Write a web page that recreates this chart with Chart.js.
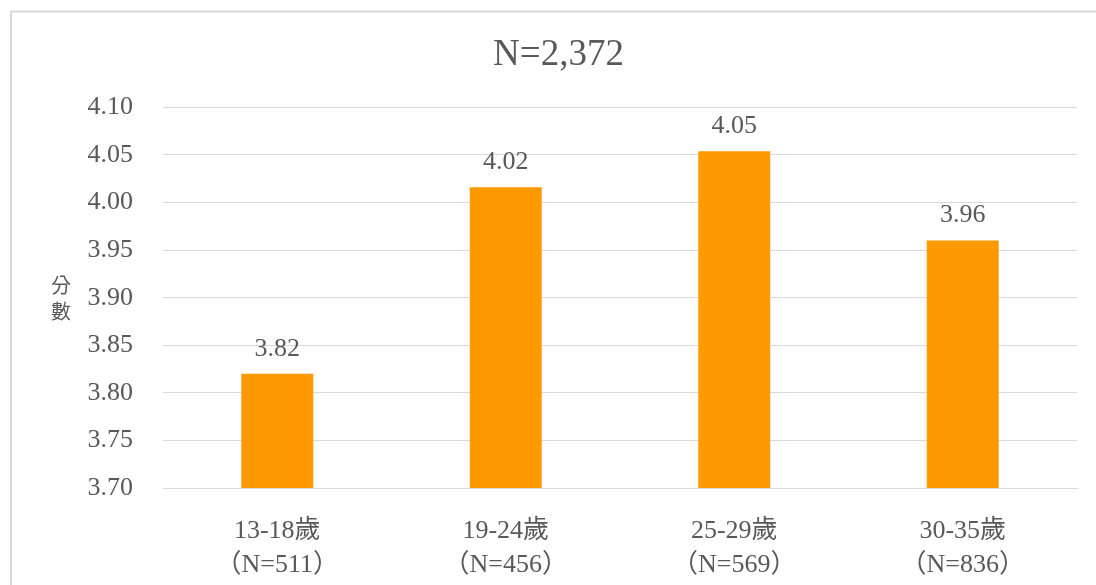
<!DOCTYPE html>
<html>
<head>
<meta charset="utf-8">
<script src="https://cdn.jsdelivr.net/npm/chart.js@4"></script>
<style>
  html, body { margin: 0; padding: 0; background: #fff; }
  #wrap { width: 1096px; height: 585px; position: relative; }
  canvas { text-spacing-trim: space-all; }
</style>
</head>
<body>
<div id="wrap"><canvas id="myChart" width="1096" height="585"></canvas></div>
<script>
var chartTitle = 'N=2,372';
var ageGroups = ['13-18歲', '19-24歲', '25-29歲', '30-35歲'];
var groupN = ['（N=511）', '（N=456）', '（N=569）', '（N=836）'];
var scores = [3.82, 4.016, 4.054, 3.96];
var yMin = 3.70;
var yMax = 4.10;
var yStep = 0.05;
var yTitle = ['分', '數'];

var textColor = '#595959';
var serif = "'Liberation Serif', 'Noto Sans CJK TC', serif";

var labels = [];
for (var i = 0; i < ageGroups.length; i++) {
    labels.push([ageGroups[i], groupN[i]]);
}

// frame around the chart (only top/left show inside the picture)
var framePlugin = {
    id: 'frame',
    beforeDraw: function(chart) {
        var c = chart.ctx;
        c.save();
        c.strokeStyle = '#d9d9d9';
        c.lineWidth = 2;
        c.strokeRect(11, 11.5, chart.width + 20, chart.height + 20);
        c.restore();
    }
};

// value labels above the bars
var valuePlugin = {
    id: 'values',
    afterDatasetsDraw: function(chart) {
        var c = chart.ctx;
        var meta = chart.getDatasetMeta(0);
        c.save();
        c.font = '26px ' + serif;
        c.fillStyle = textColor;
        c.textAlign = 'center';
        c.textBaseline = 'middle';
        meta.data.forEach(function(bar, i) {
            c.fillText(scores[i].toFixed(2), bar.x, bar.y - 25);
        });
        c.restore();
    }
};

// stacked y axis title
var yTitlePlugin = {
    id: 'ytitle',
    afterDraw: function(chart) {
        var c = chart.ctx;
        c.save();
        c.font = "20px 'Noto Sans CJK TC', sans-serif";
        c.fillStyle = textColor;
        c.textAlign = 'center';
        c.textBaseline = 'middle';
        c.fillText(yTitle[0], 61, 285);
        c.fillText(yTitle[1], 61, 311);
        c.restore();
    }
};

var ctx = document.getElementById('myChart').getContext('2d');
var chart = new Chart(ctx, {
    type: 'bar',
    data: {
        labels: labels,
        datasets: [{
            label: '分數',
            data: scores,
            backgroundColor: '#FF9900',
            borderWidth: 0,
            barPercentage: 0.315,
            categoryPercentage: 1
        }]
    },
    options: {
        responsive: false,
        animation: false,
        layout: { padding: { left: 40, right: 19, top: 0, bottom: 0 } },
        plugins: {
            legend: { display: false },
            tooltip: { enabled: false },
            title: {
                display: true,
                text: chartTitle,
                color: textColor,
                font: { family: serif, size: 37, weight: 'normal', lineHeight: 1.2 },
                padding: { top: 33, bottom: 30 }
            }
        },
        scales: {
            x: {
                grid: { display: false },
                border: { display: true, color: '#d9d9d9', width: 1 },
                ticks: {
                    color: textColor,
                    font: { family: serif, size: 26, lineHeight: 1.31 },
                    padding: 18,
                    maxRotation: 0,
                    autoSkip: false
                },
                afterFit: function(s) { s.height = 97; }
            },
            y: {
                min: yMin,
                max: yMax,
                grid: { color: '#d9d9d9', lineWidth: 1, drawTicks: false },
                border: { display: false },
                ticks: {
                    stepSize: yStep,
                    color: textColor,
                    font: { family: serif, size: 26 },
                    padding: 30,
                    callback: function(v) { return Number(v).toFixed(2); }
                },
                afterFit: function(s) { s.width = 123; }
            }
        }
    },
    plugins: [framePlugin, valuePlugin, yTitlePlugin]
});
</script>
</body>
</html>
